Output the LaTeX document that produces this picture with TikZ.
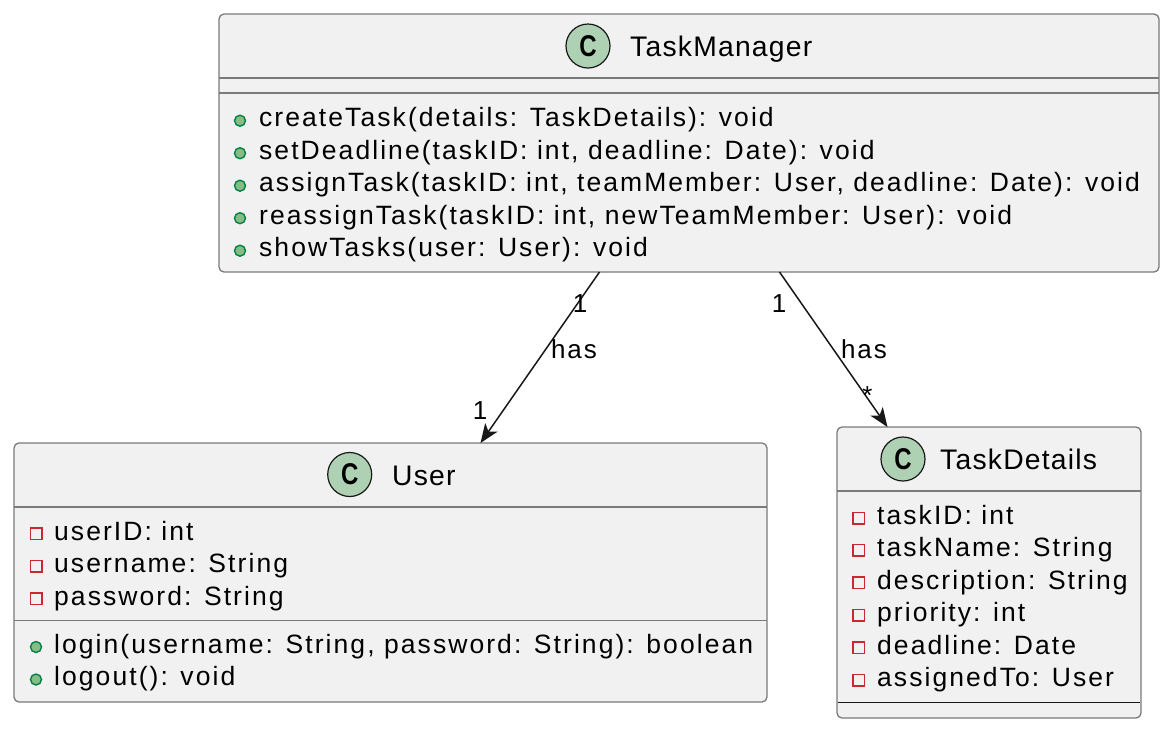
\documentclass[tikz,border=0pt]{standalone}
\usepackage{fontspec}
\setmainfont{Liberation Sans}
\newfontfamily\memberfont[LetterSpace=7.8]{Liberation Sans}
\newfontfamily\titlefont[LetterSpace=4.3]{Liberation Sans}
\newfontfamily\badgefont{Liberation Sans}
\usetikzlibrary{arrows.meta}
\definecolor{boxfill}{HTML}{F1F1F1}
\definecolor{boxline}{HTML}{7A7A7A}
\definecolor{inkline}{HTML}{181818}
\definecolor{badgefill}{HTML}{ADD1B2}
\definecolor{pubfill}{HTML}{84BE84}
\definecolor{publine}{HTML}{038048}
\definecolor{privline}{HTML}{C82930}
\tikzset{
  classbox/.style={draw=boxline, fill=boxfill, rounded corners=5pt, line width=1.3pt, inner sep=0pt, outer sep=0pt},
  sepline/.style={draw=boxline, line width=1.3pt},
  endline/.style={draw=inkline, line width=1pt},
  mem/.style={anchor=base west, inner sep=0pt, text=black, font=\memberfont\fontsize{26.5}{30}\selectfont},
  ttl/.style={anchor=base west, inner sep=0pt, text=black, font=\titlefont\fontsize{28.3}{32}\selectfont},
  cbadge/.style={circle, draw=inkline, fill=badgefill, minimum size=44pt, inner sep=0pt, line width=1.2pt,
     font=\badgefont\bfseries\fontsize{30}{30}\selectfont},
  pubdot/.style={circle, draw=publine, fill=pubfill, minimum size=11pt, inner sep=0pt, line width=1.4pt},
  privsq/.style={rectangle, draw=privline, fill=boxfill, minimum size=11.5pt, inner sep=0pt, line width=1.5pt},
  lbl/.style={inner sep=0pt, text=black, font=\memberfont\fontsize{26}{30}\selectfont},
  assoc/.style={draw=inkline, line width=1.5pt, -{Stealth[length=19pt,width=15pt,inset=5pt]}}
}
\begin{document}
\begin{tikzpicture}[x=1pt,y=-1pt]
\fill[white] (0,0) rectangle (1172,732);
\useasboundingbox (0,0) rectangle (1172,732);

% ---------- TaskManager ----------
\node[classbox, minimum width=940pt, minimum height=258pt] (tm) at (689,143) {};
\node[cbadge] (tmc) at (588,46) {\scalebox{0.8}[1]{C}};
\node[ttl] (tmt) at (630,56.7) {TaskManager};
\draw[sepline] (219,78) -- (1159,78);
\draw[sepline] (219,93) -- (1159,93);
\node[pubdot] (tmd1) at (240,120.7) {};
\node[mem] (tm1) at (259,126.7) {createTask(details: TaskDetails): void};
\node[pubdot] (tmd2) at (240,153.2) {};
\node[mem] (tm2) at (259,159.2) {setDeadline(taskID: int, deadline: Date): void};
\node[pubdot] (tmd3) at (240,185.7) {};
\node[mem] (tm3) at (259,191.7) {assignTask(taskID: int, teamMember: User, deadline: Date): void};
\node[pubdot] (tmd4) at (240,218.2) {};
\node[mem] (tm4) at (259,224.2) {reassignTask(taskID: int, newTeamMember: User): void};
\node[pubdot] (tmd5) at (240,250.7) {};
\node[mem] (tm5) at (259,256.7) {showTasks(user: User): void};

% ---------- User ----------
\node[classbox, minimum width=753pt, minimum height=259pt] (user) at (390.5,572.5) {};
\node[cbadge] (uc) at (349.7,474.5) {\scalebox{0.8}[1]{C}};
\node[ttl] (ut) at (392,485) {User};
\draw[sepline] (14,507) -- (767,507);
\node[privsq] (us1) at (36,533.5) {};
\node[mem] (u1) at (54,540) {userID: int};
\node[privsq] (us2) at (36,566) {};
\node[mem] (u2) at (54,572.5) {username: String};
\node[privsq] (us3) at (36,598.5) {};
\node[mem] (u3) at (54,605) {password: String};
\draw[sepline] (14,620.5) -- (767,620.5);
\node[pubdot] (ud1) at (36,647) {};
\node[mem] (u4) at (54,653) {login(username: String, password: String): boolean};
\node[pubdot] (ud2) at (36,679.5) {};
\node[mem] (u5) at (54,685.5) {logout(): void};

% ---------- TaskDetails ----------
\node[classbox, minimum width=304pt, minimum height=291pt] (td) at (989,572.5) {};
\node[cbadge] (tdc) at (903,459) {\scalebox{0.8}[1]{C}};
\node[ttl] (tdt) at (940,469) {TaskDetails};
\draw[sepline] (837,491) -- (1141,491);
\node[privsq] (tds1) at (858.5,518) {};
\node[mem] (td1) at (877,524.5) {taskID: int};
\node[privsq] (tds2) at (858.5,550.4) {};
\node[mem] (td2) at (877,556.9) {taskName: String};
\node[privsq] (tds3) at (858.5,582.8) {};
\node[mem] (td3) at (877,589.3) {description: String};
\node[privsq] (tds4) at (858.5,615.2) {};
\node[mem] (td4) at (877,621.7) {priority: int};
\node[privsq] (tds5) at (858.5,647.6) {};
\node[mem] (td5) at (877,654.1) {deadline: Date};
\node[privsq] (tds6) at (858.5,680) {};
\node[mem] (td6) at (877,686.5) {assignedTo: User};
\draw[endline] (837.6,702.5) -- (1140.4,702.5);

% ---------- Associations ----------
\draw[assoc] ([xshift=380.5pt]tm.south west) -- ([xshift=466.5pt]user.north west);
\draw[assoc] ([xshift=560.5pt]tm.south west) -- ([xshift=50.5pt]td.north west);
\node[lbl] (l1) at (580,304) {1};
\node[lbl] (l2) at (574,349) {has};
\node[lbl] (l3) at (480,411) {1};
\node[lbl] (r1) at (779,304) {1};
\node[lbl] (r2) at (864,349) {has};
\node[lbl] (r3) at (867.5,396) {*};
\end{tikzpicture}
\end{document}
